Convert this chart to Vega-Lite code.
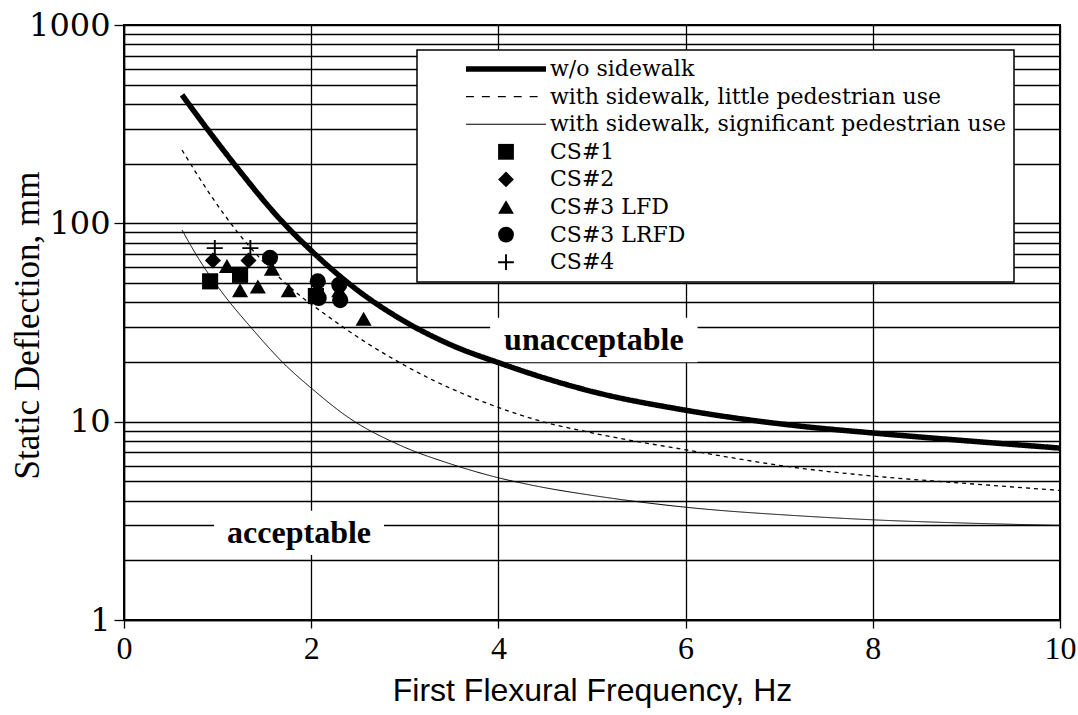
{
  "$schema": "https://vega.github.io/schema/vega-lite/v6.json",
  "width": 936,
  "height": 595,
  "autosize": {"type": "none"},
  "padding": {"left": 124, "top": 25, "right": 18, "bottom": 95},
  "background": "white",
  "config": {
    "view": {"stroke": "black", "strokeWidth": 2},
    "legend": {
      "orient": "none",
      "legendX": 293,
      "legendY": 25,
      "padding": 8,
      "strokeColor": "black",
      "strokeWidth": 1.5,
      "fillColor": "white",
      "labelFont": "DejaVu Serif",
      "labelFontSize": 22,
      "labelColor": "black",
      "labelLimit": 700,
      "symbolSize": 250,
      "symbolOffset": 70,
      "labelOffset": 33,
      "rowPadding": 5.6,
      "symbolFillColor": "black",
      "symbolStrokeColor": "black",
      "symbolStrokeWidth": 0
    }
  },
  "datasets": {
    "curves": [
      {"series": "w/o sidewalk", "f": 0.62, "d": 444},
      {"series": "w/o sidewalk", "f": 0.88, "d": 303},
      {"series": "w/o sidewalk", "f": 1.2, "d": 193},
      {"series": "w/o sidewalk", "f": 1.67, "d": 104.5},
      {"series": "w/o sidewalk", "f": 2.02, "d": 71.4},
      {"series": "w/o sidewalk", "f": 2.5, "d": 45.8},
      {"series": "w/o sidewalk", "f": 3.01, "d": 31.8},
      {"series": "w/o sidewalk", "f": 3.51, "d": 24.2},
      {"series": "w/o sidewalk", "f": 4.02, "d": 19.7},
      {"series": "w/o sidewalk", "f": 4.44, "d": 16.9},
      {"series": "w/o sidewalk", "f": 5.0, "d": 14.2},
      {"series": "w/o sidewalk", "f": 6.01, "d": 11.4},
      {"series": "w/o sidewalk", "f": 7.22, "d": 9.5},
      {"series": "w/o sidewalk", "f": 8.0, "d": 8.77},
      {"series": "w/o sidewalk", "f": 9.0, "d": 8.01},
      {"series": "w/o sidewalk", "f": 10.0, "d": 7.36},
      {"series": "with sidewalk, little pedestrian use", "f": 0.62, "d": 234},
      {"series": "with sidewalk, little pedestrian use", "f": 0.92, "d": 140},
      {"series": "with sidewalk, little pedestrian use", "f": 1.22, "d": 89.4},
      {"series": "with sidewalk, little pedestrian use", "f": 1.6, "d": 56.7},
      {"series": "with sidewalk, little pedestrian use", "f": 1.9, "d": 42.5},
      {"series": "with sidewalk, little pedestrian use", "f": 2.13, "d": 35.3},
      {"series": "with sidewalk, little pedestrian use", "f": 2.59, "d": 25.0},
      {"series": "with sidewalk, little pedestrian use", "f": 2.95, "d": 19.8},
      {"series": "with sidewalk, little pedestrian use", "f": 3.3, "d": 16.2},
      {"series": "with sidewalk, little pedestrian use", "f": 3.66, "d": 13.6},
      {"series": "with sidewalk, little pedestrian use", "f": 4.02, "d": 11.7},
      {"series": "with sidewalk, little pedestrian use", "f": 4.44, "d": 10.1},
      {"series": "with sidewalk, little pedestrian use", "f": 5.0, "d": 8.78},
      {"series": "with sidewalk, little pedestrian use", "f": 6.01, "d": 7.2},
      {"series": "with sidewalk, little pedestrian use", "f": 7.22, "d": 5.83},
      {"series": "with sidewalk, little pedestrian use", "f": 8.0, "d": 5.32},
      {"series": "with sidewalk, little pedestrian use", "f": 9.0, "d": 4.88},
      {"series": "with sidewalk, little pedestrian use", "f": 10.0, "d": 4.5},
      {"series": "with sidewalk, significant pedestrian use", "f": 0.62, "d": 92.6},
      {"series": "with sidewalk, significant pedestrian use", "f": 0.8, "d": 66},
      {"series": "with sidewalk, significant pedestrian use", "f": 1.03, "d": 46},
      {"series": "with sidewalk, significant pedestrian use", "f": 1.38, "d": 29},
      {"series": "with sidewalk, significant pedestrian use", "f": 1.7, "d": 19.8},
      {"series": "with sidewalk, significant pedestrian use", "f": 2.02, "d": 14.5},
      {"series": "with sidewalk, significant pedestrian use", "f": 2.41, "d": 10.4},
      {"series": "with sidewalk, significant pedestrian use", "f": 2.95, "d": 7.6},
      {"series": "with sidewalk, significant pedestrian use", "f": 3.5, "d": 6.1},
      {"series": "with sidewalk, significant pedestrian use", "f": 3.94, "d": 5.3},
      {"series": "with sidewalk, significant pedestrian use", "f": 4.44, "d": 4.7},
      {"series": "with sidewalk, significant pedestrian use", "f": 5.0, "d": 4.25},
      {"series": "with sidewalk, significant pedestrian use", "f": 6.01, "d": 3.7},
      {"series": "with sidewalk, significant pedestrian use", "f": 7.22, "d": 3.35},
      {"series": "with sidewalk, significant pedestrian use", "f": 8.0, "d": 3.2},
      {"series": "with sidewalk, significant pedestrian use", "f": 9.0, "d": 3.08},
      {"series": "with sidewalk, significant pedestrian use", "f": 10.0, "d": 3.0}
    ],
    "tests": [
      {"series": "CS#1", "f": 0.92, "d": 51},
      {"series": "CS#1", "f": 1.24, "d": 55},
      {"series": "CS#1", "f": 2.05, "d": 43},
      {"series": "CS#2", "f": 0.95, "d": 65},
      {"series": "CS#2", "f": 1.33, "d": 65},
      {"series": "CS#3 LFD", "f": 1.1, "d": 61},
      {"series": "CS#3 LFD", "f": 1.24, "d": 46},
      {"series": "CS#3 LFD", "f": 1.43, "d": 48},
      {"series": "CS#3 LFD", "f": 1.58, "d": 59},
      {"series": "CS#3 LFD", "f": 1.76, "d": 46},
      {"series": "CS#3 LFD", "f": 2.3, "d": 46},
      {"series": "CS#3 LFD", "f": 2.56, "d": 33},
      {"series": "CS#3 LRFD", "f": 1.56, "d": 67},
      {"series": "CS#3 LRFD", "f": 2.07, "d": 51},
      {"series": "CS#3 LRFD", "f": 2.08, "d": 42},
      {"series": "CS#3 LRFD", "f": 2.3, "d": 49},
      {"series": "CS#3 LRFD", "f": 2.31, "d": 41},
      {"series": "CS#4", "f": 0.97, "d": 75},
      {"series": "CS#4", "f": 1.35, "d": 75}
    ],
    "notes": [
      {"label": "unacceptable", "f": 5.02, "d": 25.8},
      {"label": "acceptable", "f": 1.87, "d": 2.75}
    ]
  },
  "encoding": {
    "x": {
      "field": "f",
      "type": "quantitative",
      "scale": {"domain": [0, 10], "nice": false, "zero": false},
      "axis": {
        "title": "First Flexural Frequency, Hz",
        "values": [0, 2, 4, 6, 8, 10],
        "grid": true,
        "gridColor": "black",
        "gridWidth": 1.3,
        "gridOpacity": 1,
        "domainColor": "black",
        "domainWidth": 1.5,
        "tickColor": "black",
        "tickSize": 8,
        "tickWidth": 1.3,
        "labelFont": "Liberation Serif",
        "labelFontSize": 32,
        "labelColor": "black",
        "labelPadding": 5,
        "labelFlush": false,
        "labelOverlap": false,
        "titleFont": "Liberation Sans",
        "titleFontSize": 32,
        "titleFontWeight": "normal",
        "titleColor": "black",
        "titleY": 70,
        "titleBaseline": "middle"
      }
    },
    "y": {
      "field": "d",
      "type": "quantitative",
      "scale": {"type": "log", "domain": [1, 1000], "nice": false},
      "axis": {
        "title": "Static Deflection, mm",
        "values": [1, 2, 3, 4, 5, 6, 7, 8, 9, 10, 20, 30, 40, 50, 60, 70, 80, 90, 100, 200, 300, 400, 500, 600, 700, 800, 900, 1000],
        "format": "d",
        "labelExpr": "(datum.value == 1 || datum.value == 10 || datum.value == 100 || datum.value == 1000) ? datum.label : ''",
        "grid": true,
        "gridColor": "black",
        "gridWidth": 1.3,
        "gridOpacity": 1,
        "domainColor": "black",
        "domainWidth": 1.5,
        "tickColor": "black",
        "tickSize": 10,
        "tickWidth": 1.3,
        "tickOpacity": {"condition": {"test": "datum.value == 1 || datum.value == 10 || datum.value == 100 || datum.value == 1000", "value": 1}, "value": 0},
        "labelFont": "DejaVu Serif",
        "labelFontSize": 32,
        "labelColor": "black",
        "labelPadding": 4,
        "labelFlush": false,
        "labelOverlap": false,
        "titleFont": "Liberation Serif",
        "titleFontSize": 35,
        "titleFontWeight": "normal",
        "titleColor": "black",
        "titleAngle": -90,
        "titleX": -97,
        "titleY": 300,
        "titleAlign": "center",
        "titleBaseline": "middle"
      }
    }
  },
  "layer": [
    {
      "data": {"name": "notes"},
      "transform": [{"filter": "datum.label == 'unacceptable'"}],
      "mark": {"type": "point", "shape": "M-1,-0.215H1V0.215H-1Z", "size": 43000, "filled": true, "color": "white", "opacity": 1, "strokeWidth": 0}
    },
    {
      "data": {"name": "notes"},
      "transform": [{"filter": "datum.label == 'acceptable'"}],
      "mark": {"type": "point", "shape": "M-1,-0.26H1V0.26H-1Z", "size": 28900, "filled": true, "color": "white", "opacity": 1, "strokeWidth": 0}
    },
    {
      "data": {"name": "curves"},
      "mark": {"type": "line", "interpolate": "monotone", "color": "black"},
      "encoding": {
        "strokeDash": {
          "field": "series",
          "type": "nominal",
          "scale": {
            "domain": ["w/o sidewalk", "with sidewalk, little pedestrian use", "with sidewalk, significant pedestrian use"],
            "range": [[1, 0], [4, 4], [1, 0]]
          },
          "legend": null
        },
        "strokeWidth": {
          "field": "series",
          "type": "nominal",
          "scale": {
            "type": "ordinal",
            "domain": ["w/o sidewalk", "with sidewalk, little pedestrian use", "with sidewalk, significant pedestrian use"],
            "range": [5.5, 1.3, 1]
          },
          "legend": null
        }
      }
    },
    {
      "data": {"name": "tests"},
      "mark": {"type": "point", "filled": true, "color": "black", "size": 260, "opacity": 1, "strokeWidth": 0},
      "encoding": {
        "shape": {
          "field": "series",
          "type": "nominal",
          "scale": {
            "domain": ["w/o sidewalk", "with sidewalk, little pedestrian use", "with sidewalk, significant pedestrian use", "CS#1", "CS#2", "CS#3 LFD", "CS#3 LRFD", "CS#4"],
            "range": [
              "M-5.06,-0.34H5.06V0.34H-5.06Z",
              "M-5.06,-0.08H-4.06V0.08H-5.06Z M-3.05,-0.08H-2.05V0.08H-3.05Z M-1.03,-0.08H-0.03V0.08H-1.03Z M0.98,-0.08H1.98V0.08H0.98Z M3.0,-0.08H4.0V0.08H3.0Z",
              "M-5.06,-0.07H5.06V0.07H-5.06Z",
              "square",
              "diamond",
              "triangle-up",
              "circle",
              "M-1,-0.12H1V0.12H-1Z M-0.12,-1H0.12V1H-0.12Z"
            ]
          },
          "legend": {"title": null}
        }
      }
    },
    {
      "data": {"name": "notes"},
      "mark": {"type": "text", "font": "Liberation Serif", "fontSize": 32, "fontWeight": "bold", "color": "black", "align": "center", "baseline": "middle"},
      "encoding": {"text": {"field": "label"}}
    }
  ]
}
